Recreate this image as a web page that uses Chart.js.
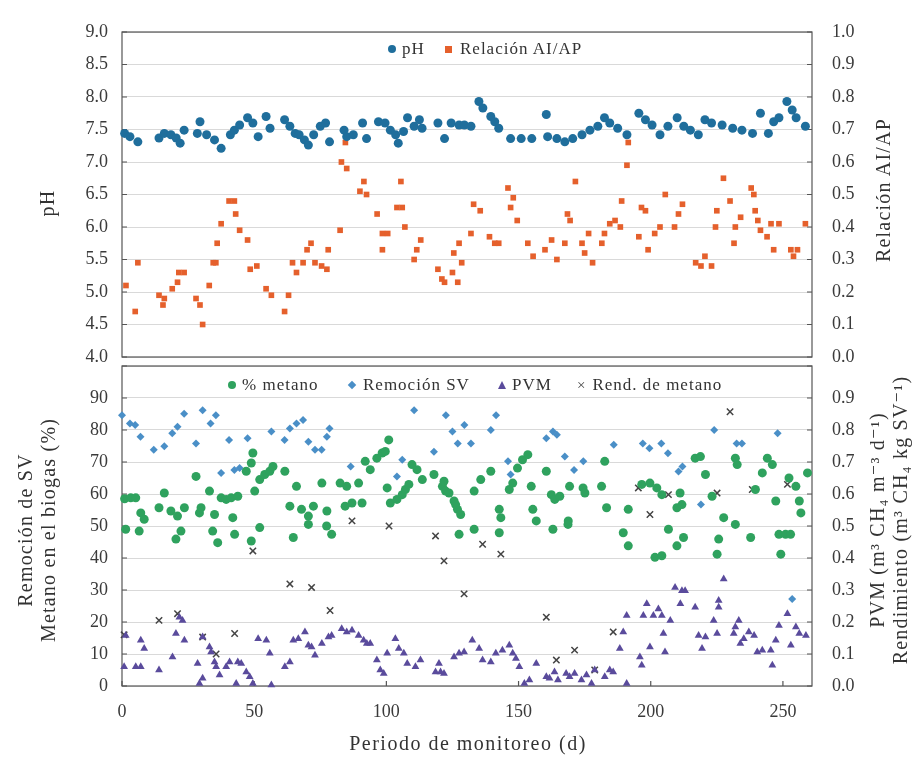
<!DOCTYPE html>
<html>
<head>
<meta charset="utf-8">
<script src="https://cdn.jsdelivr.net/npm/chart.js@4.4.0/dist/chart.umd.min.js"></script>
<style>
body { margin: 0; background: #fff; }
#wrap { position: relative; width: 919px; height: 760px; font-family: 'Liberation Serif', 'DejaVu Serif', serif; color: #333; }
canvas { position: absolute; left: 0; }
.lbl { position: absolute; white-space: nowrap; font-size: 20px; letter-spacing: 1.2px; text-align: center; line-height: 23px; transform: translate(-50%, -50%) rotate(-90deg); }
.xt { position: absolute; white-space: nowrap; font-size: 20px; letter-spacing: 1.5px; transform: translate(-50%, -50%); }
.it { position: absolute; white-space: nowrap; font-size: 17px; letter-spacing: 1px; transform: translateY(-50%); display: flex; align-items: center; }
.mk { display: inline-block; margin-right: 6px; }
</style>
</head>
<body>
<div id="wrap">
  <canvas id="top" width="919" height="365" style="top:0"></canvas>
  <canvas id="bottom" width="919" height="400" style="top:360px"></canvas>

  <span class="it" style="left:388px; top:49px;"><span class="mk" style="width:8px;height:8px;border-radius:50%;background:#1f6e9c"></span>pH</span>
  <span class="it" style="left:445px; top:49px;"><span class="mk" style="width:7px;height:7px;background:#e5602c;margin-right:8px"></span>Relación AI/AP</span>

  <span class="it" style="left:228px; top:385px;"><span class="mk" style="width:8px;height:8px;border-radius:50%;background:#2fa25e"></span>% metano</span>
  <span class="it" style="left:349px; top:385px;"><span class="mk" style="width:6px;height:6px;background:#4a8fc7;transform:rotate(45deg);margin-right:8px"></span>Remoción SV</span>
  <span class="it" style="left:498px; top:385px;"><span class="mk" style="width:0;height:0;border-left:4px solid transparent;border-right:4px solid transparent;border-bottom:8px solid #5a4b9c"></span>PVM</span>
  <span class="it" style="left:577px; top:385px;"><span class="mk" style="font-size:15px;color:#444;line-height:10px">×</span>Rend. de metano</span>

  <div class="lbl" style="left:47px; top:203px;">pH</div>
  <div class="lbl" style="left:883px; top:190px;">Relación AI/AP</div>
  <div class="lbl" style="left:37px; top:530px;">Remoción de SV<br>Metano en el biogas (%)</div>
  <div class="lbl" style="left:889px; top:520px;">PVM (m³ CH₄ m⁻³ d⁻¹)<br>Rendimiento (m³ CH₄ kg SV⁻¹)</div>
  <div class="xt" style="left:468px; top:743px;">Periodo de monitoreo (d)</div>
</div>

<script>
// [día, valor]
const phData = [[1,7.44],[3,7.39],[6,7.31],[14,7.37],[16,7.44],[18.5,7.42],[20.5,7.37],[22,7.29],[23.5,7.49],[28.5,7.44],
  [29.5,7.62],[32,7.42],[35,7.34],[37.5,7.21],[41,7.42],[42.5,7.49],[44.5,7.57],[47.5,7.68],[49.5,7.60],[51.5,7.39],
  [54.5,7.70],[56,7.52],[61.5,7.65],[63.5,7.55],[65.5,7.44],[67,7.42],[69,7.34],[70.5,7.26],[72.5,7.42],[75,7.55],
  [77,7.60],[78.5,7.31],[84,7.49],[85,7.39],[87.5,7.42],[91,7.60],[92.5,7.36],[97,7.62],[99.5,7.60],[101.5,7.49],
  [103.5,7.42],[104.5,7.29],[106.5,7.47],[108,7.68],[110.5,7.55],[112.5,7.65],[113.5,7.52],[119.5,7.60],[122,7.36],[124.5,7.60],
  [127.5,7.57],[129.5,7.57],[132,7.55],[135,7.93],[136.5,7.83],[139.5,7.70],[141,7.62],[142.5,7.52],[147,7.36],[151,7.36],
  [155,7.36],[160.5,7.73],[161,7.39],[164.5,7.36],[167.5,7.31],[170.5,7.36],[174,7.42],[177,7.49],[180,7.55],[182.5,7.68],
  [184.5,7.60],[187.5,7.52],[191,7.42],[195.5,7.75],[198,7.65],[200.5,7.57],[203.5,7.42],[206.5,7.55],[210,7.68],[212.5,7.55],
  [215,7.49],[218,7.42],[220.5,7.65],[223,7.60],[227,7.57],[231,7.52],[234.5,7.49],[238.5,7.44],[241.5,7.75],[244.5,7.44],
  [246.5,7.62],[248.5,7.68],[251.5,7.93],[253.5,7.80],[255,7.68],[258.5,7.55]];

const aiapData = [[1.5,0.22],[5,0.14],[6,0.29],[14,0.19],[15.5,0.16],[16,0.18],[19,0.21],[21,0.23],[21.5,0.26],[23.5,0.26],
  [28,0.18],[29.5,0.16],[30.5,0.10],[33,0.22],[34.5,0.29],[35.5,0.29],[36,0.35],[37.5,0.41],[40.5,0.48],[42.5,0.48],
  [43,0.44],[44.5,0.39],[47.5,0.36],[48.5,0.27],[51,0.28],[54.5,0.21],[56.5,0.19],[61.5,0.14],[63,0.19],[64.5,0.29],
  [66,0.26],[68.5,0.29],[70,0.33],[71.5,0.35],[73,0.29],[75.5,0.28],[77.5,0.27],[78,0.33],[82.5,0.39],[83,0.60],
  [84.5,0.66],[85,0.58],[90,0.51],[91.5,0.54],[92.5,0.50],[96.5,0.44],[98.5,0.38],[100.5,0.38],[98.5,0.33],[104,0.46],
  [105.5,0.54],[106,0.46],[107,0.40],[110.5,0.30],[111.5,0.33],[113,0.36],[119.5,0.27],[121,0.24],[122,0.23],[125,0.26],
  [125.5,0.32],[127.5,0.35],[127,0.23],[128.5,0.29],[132,0.38],[133,0.47],[135.5,0.45],[139,0.37],[141,0.35],[142.5,0.35],
  [146,0.52],[148,0.49],[147,0.46],[149.5,0.42],[153.5,0.35],[155.5,0.31],[160,0.33],[162.5,0.36],[164.5,0.30],[167.5,0.35],
  [168.5,0.44],[169.5,0.42],[171.5,0.54],[174,0.35],[175,0.32],[176.5,0.38],[178,0.29],[181.5,0.35],[182.5,0.38],[184.5,0.41],
  [186.5,0.42],[188.5,0.40],[189,0.48],[191,0.59],[191.5,0.66],[195.5,0.37],[196.5,0.46],[198,0.45],[199,0.33],[201.5,0.38],
  [203.5,0.40],[205.5,0.50],[209,0.40],[210.5,0.44],[212,0.47],[217,0.29],[219,0.28],[220.5,0.31],[223,0.28],[224.5,0.40],
  [225,0.45],[227.5,0.55],[230,0.48],[231.5,0.35],[232,0.40],[234,0.43],[238,0.52],[239,0.50],[239.5,0.45],[240.5,0.42],
  [241.5,0.39],[244,0.37],[245.5,0.41],[248.5,0.41],[246.5,0.33],[253,0.33],[254,0.31],[255.5,0.33],[258.5,0.41]];

const metanoData = [[1,58.5],[3.3,58.8],[5.2,58.8],[7.1,54.1],[8.4,52.1],[14,55.7],[16,60.3],[18.5,54.7],[21,53.1],[23.6,55.7],
  [28,65.5],[29.3,54.1],[29.9,55.7],[33.1,60.9],[35,53.6],[37.5,58.8],[39.4,58.3],[41.9,52.6],[41.3,58.8],[43.8,59.3],
  [47,67.1],[48.9,69.7],[49.5,72.8],[50.2,60.9],[52.1,64.5],[54,66.1],[55.9,67.1],[57.1,68.6],[61.6,67.1],[63.5,56.2],
  [66,62.4],[67.9,55.2],[70.5,53.1],[72.4,56.2],[75.6,63.4],[77.5,54.7],[82.5,63.4],[85,62.4],[84.4,56.2],[87,57.2],
  [89.5,63.4],[90.8,57.2],[92,70.2],[93.9,67.6],[96.4,71.2],[98.4,72.8],[99.6,73.3],[100.9,76.9],[100.3,61.9],[101.5,57.2],
  [104,58.3],[106,59.8],[107.2,61.4],[108.5,63],[109.7,69.2],[111.6,67.6],[113.6,64.5],[118,66.1],[121.2,62.4],[122.4,60.9],
  [125.6,57.8],[126.9,55.2],[121.8,64],[123.7,60.3],[126.2,56.7],[128.1,53.6],[133.2,60.9],[135.7,64.5],[139.5,67.1],[142.7,55.2],
  [143.3,52.6],[146.5,61.4],[147.8,63.4],[149.6,68.1],[151.5,70.7],[153.5,72.3],[154.8,62.4],[155.4,55.2],[156.7,51.6],[160.5,67.1],
  [162.4,59.8],[163.7,58.3],[165.6,59.3],[168.8,51.6],[169.3,62.4],[174.4,61.9],[175.1,60.3],[181.4,62.4],[182.6,70.2],[183.3,55.7],
  [191.5,55.2],[196.6,63],[199.7,63.4],[202.3,61.9],[204.2,59.8],[209.9,55.7],[211.1,60.3],[211.8,56.7],[216.8,71.2],[218.8,71.7],
  [220.7,66.1],[223.2,59.3],[227.6,52.6],[232,71.2],[232.7,69.2],[239.6,61.4],[242.2,66.6],[244.1,71.2],[246,69.2],[247.3,57.8],
  [252.3,65],[254.9,62.4],[256.2,57.8],[256.8,54.1],[259.3,66.6],
  [1.4,49],[6.5,48.4],[20.4,45.9],[22.3,48.4],[34.3,48.4],[36.2,44.8],[42.6,47.4],[48.9,45.3],[52.1,49.5],[64.8,46.4],
  [70.5,50.5],[77.4,50],[79.3,47.4],[127.5,47.4],[133.2,49],[142.7,47.9],[163,49],[168.7,50.5],[189.6,47.9],[191.5,43.8],
  [201.6,40.2],[204.2,40.7],[206.7,49],[209.9,43.8],[212.4,46.4],[225.7,45.9],[225.1,41.2],[232,50.5],[237.8,46.4],[248.5,47.4],
  [251,47.4],[252.9,47.4],[249.2,41.2]];

const remocionData = [[0,84.6],[3,82],[5,81.6],[7,77.9],[12,73.8],[16,74.9],[19,79],[21,81],[23.5,85.1],[28,75.8],
  [30.5,86.2],[33.5,82],[35.5,84.6],[37.5,66.6],[40.5,76.9],[42.5,67.5],[44.5,68.1],[47.5,77.4],[56.5,79.5],[61.5,76.9],
  [63.5,80.5],[66,82],[68.5,83.1],[70.5,76.3],[73,73.8],[75.5,73.8],[77.5,77.9],[78.5,80.5],[86.5,68.6],[104,65.5],
  [106,70.7],[110.5,86.2],[118,73.2],[122.5,84.6],[125,79.5],[127,75.8],[129.5,81.6],[132,75.8],[139.5,80],[141.5,84.6],
  [146,70.2],[147,66.1],[160.5,77.4],[163,79.5],[164.5,78.5],[167.5,71.7],[171,67.5],[174.5,70.2],[186,75.4],[197,75.8],
  [199.5,74.3],[204,75.8],[206.5,72.7],[210.5,67],[212,68.6],[219,56.7],[224,80],[232.5,75.8],[234.5,75.8],[248,79],
  [253.5,27.2]];

const pvmData = [[0.8,0.060],[1.4,0.158],[5.2,0.060],[7.1,0.060],[7.1,0.143],[8.4,0.117],[14,0.050],[19.1,0.091],[20.4,0.164],[21.7,0.215],
  [22.9,0.205],[23.6,0.143],[28.6,0.070],[29.3,0.008],[30.5,0.024],[30.5,0.153],[33.1,0.122],[33.7,0.106],[35,0.075],[35.6,0.060],
  [36.9,0.034],[39.4,0.060],[40.7,0.075],[43.2,0.008],[43.8,0.075],[45.1,0.070],[47,0.044],[48.3,0.029],[49.5,0.008],[51.5,0.148],
  [54.6,0.143],[55.9,0.102],[56.5,0.003],[61.6,0.060],[63.5,0.075],[64.8,0.143],[66.7,0.148],[69.2,0.169],[70.5,0.127],[71.7,0.122],
  [73,0.096],[75.6,0.133],[78.1,0.153],[79.3,0.158],[83.1,0.179],[85,0.169],[87,0.174],[89.5,0.158],[91.4,0.143],[92.6,0.133],
  [93.9,0.133],[96.4,0.081],[97.7,0.050],[99,0.039],[100.3,0.102],[103.4,0.148],[104.7,0.117],[106.6,0.102],[107.9,0.070],[111,0.060],
  [112.9,0.081],[118.6,0.044],[119.9,0.070],[120.5,0.044],[121.8,0.039],[125.6,0.091],[127.5,0.102],[129.4,0.106],[132.5,0.143],[135.1,0.117],
  [136.4,0.081],[139.5,0.075],[141.4,0.102],[143.9,0.112],[146.5,0.127],[147.8,0.102],[149,0.086],[150.3,0.060],[152.2,0.008],[154.1,0.019],
  [156.7,0.070],[160.5,0.029],[161.7,0.024],[163.6,0.044],[164.9,0.019],[168,0.039],[169.3,0.029],[171.2,0.039],[173.8,0.019],[175.7,0.034],
  [177.6,0.008],[178.8,0.050],[182.6,0.029],[184.5,0.050],[185.8,0.044],[188.3,0.117],[189.6,0.169],[190.9,0.008],[190.9,0.220],[195.9,0.091],
  [196.6,0.065],[197.2,0.220],[198.5,0.257],[199.7,0.122],[201,0.220],[202.9,0.241],[204.2,0.220],[204.8,0.164],[205.4,0.106],[207.4,0.205],
  [209.2,0.308],[211.2,0.257],[211.8,0.298],[213,0.298],[216.8,0.246],[218.1,0.158],[219.4,0.117],[220.7,0.153],[223.8,0.205],[225.1,0.164],
  [225.7,0.267],[225.7,0.246],[227.6,0.334],[231.4,0.164],[232,0.184],[233.3,0.205],[233.9,0.133],[235.2,0.148],[237.1,0.169],[239.1,0.158],
  [240.3,0.106],[242.2,0.112],[245.4,0.112],[246,0.065],[247.3,0.143],[248.5,0.189],[251.7,0.226],[253,0.127],[254.9,0.184],[256.2,0.164],
  [258.7,0.158]];

const rendData = [[0.8,0.16],[14,0.205],[21,0.226],[30.5,0.153],[35.6,0.10],[42.6,0.164],[49.5,0.422],[63.5,0.319],[71.7,0.308],[78.7,0.236],
  [87,0.516],[101,0.50],[118.6,0.469],[121.8,0.391],[129.4,0.288],[136.4,0.443],[143.3,0.412],[160.5,0.215],[164.3,0.081],[171.2,0.112],
  [178.8,0.05],[185.8,0.169],[195.3,0.619],[199.7,0.536],[206.7,0.598],[225.1,0.603],[230,0.857],[238.4,0.614],[251.7,0.63]];

const xTicks = [0, 50, 100, 150, 200, 250];
const xMax = 261;

const tickFont = { family: "'Liberation Serif', serif", size: 18 };
const tickColor = '#3a3a3a';
const gridColor = '#d9d9d9';

const toPts = arr => arr.map(p => ({ x: p[0], y: p[1] }));

// marco del gráfico + marcas interiores de los ejes
const boxPlugin = {
  id: 'box',
  beforeDatasetsDraw(chart) {
    const { ctx, chartArea: a, scales } = chart;
    ctx.save();
    ctx.strokeStyle = '#555';
    ctx.lineWidth = 1.2;
    ctx.strokeRect(a.left, a.top, a.right - a.left, a.bottom - a.top);
    ctx.beginPath();
    Object.values(scales).forEach(s => {
      if (s.axis === 'y') {
        s.ticks.forEach(t => {
          const y = s.getPixelForValue(t.value);
          if (s.position === 'left') { ctx.moveTo(a.left, y); ctx.lineTo(a.left + 5, y); }
          else { ctx.moveTo(a.right, y); ctx.lineTo(a.right - 5, y); }
        });
      } else if (s.options.display) {
        s.ticks.forEach(t => {
          const x = s.getPixelForValue(t.value);
          ctx.moveTo(x, a.bottom); ctx.lineTo(x, a.bottom - 5);
        });
      }
    });
    ctx.stroke();
    ctx.restore();
  }
};

function yAxis(pos, min, max, step, width, pad, fmt, grid) {
  return {
    position: pos, min: min, max: max,
    ticks: { stepSize: step, padding: pad, font: tickFont, color: tickColor, callback: fmt },
    grid: { display: grid, color: gridColor, drawTicks: false },
    border: { display: false },
    // ancho fijo y sin relleno vertical, para que las áreas de trazado coincidan
    afterFit: s => { s.width = width; s.paddingTop = 0; s.paddingBottom = 0; }
  };
}

new Chart(document.getElementById('top'), {
  type: 'scatter',
  data: {
    datasets: [
      { label: 'pH', data: toPts(phData), yAxisID: 'yPh', pointStyle: 'circle', pointRadius: 4.5,
        backgroundColor: '#1f6e9c', borderColor: '#1f6e9c', borderWidth: 0, clip: false },
      { label: 'Relación AI/AP', data: toPts(aiapData), yAxisID: 'yAi', pointStyle: 'rect', pointRadius: 4,
        backgroundColor: '#e5602c', borderColor: '#e5602c', borderWidth: 0, clip: false }
    ]
  },
  options: {
    responsive: false,
    animation: false,
    layout: { padding: { top: 32, bottom: 8, left: 0, right: 0 } },
    plugins: { legend: { display: false }, tooltip: { enabled: false } },
    scales: {
      x: { type: 'linear', min: 0, max: xMax, display: false },
      yPh: yAxis('left', 4, 9, 0.5, 122, 14, v => v.toFixed(1), true),
      yAi: yAxis('right', 0, 1, 0.1, 107, 20, v => v.toFixed(1), false)
    }
  },
  plugins: [boxPlugin]
});

new Chart(document.getElementById('bottom'), {
  type: 'scatter',
  data: {
    datasets: [
      { label: '% metano', data: toPts(metanoData), yAxisID: 'yPct', pointStyle: 'circle', pointRadius: 4.5,
        backgroundColor: '#2fa25e', borderColor: '#2fa25e', borderWidth: 0, clip: false },
      { label: 'Remoción SV', data: toPts(remocionData), yAxisID: 'yPct', pointStyle: 'rectRot', pointRadius: 4,
        backgroundColor: '#4a8fc7', borderColor: '#4a8fc7', borderWidth: 0, clip: false },
      { label: 'PVM', data: toPts(pvmData), yAxisID: 'yPvm', pointStyle: 'triangle', pointRadius: 4.5,
        backgroundColor: '#5a4b9c', borderColor: '#5a4b9c', borderWidth: 0, clip: false },
      { label: 'Rend. de metano', data: toPts(rendData), yAxisID: 'yPvm', pointStyle: 'crossRot', pointRadius: 4.5,
        backgroundColor: '#444', borderColor: '#444', borderWidth: 1.5, clip: false }
    ]
  },
  options: {
    responsive: false,
    animation: false,
    layout: { padding: { top: 5, bottom: 0, left: 0, right: 0 } },
    plugins: { legend: { display: false }, tooltip: { enabled: false } },
    scales: {
      x: {
        type: 'linear', min: 0, max: xMax,
        afterBuildTicks: s => { s.ticks = xTicks.map(v => ({ value: v })); },
        ticks: { padding: 15, font: tickFont, color: tickColor, maxRotation: 0 },
        grid: { display: false, drawTicks: false },
        border: { display: false },
        afterFit: s => { s.height = 74; }
      },
      yPct: yAxis('left', 0, 100, 10, 122, 14, v => (v >= 100 ? '' : v), true),
      yPvm: yAxis('right', 0, 1, 0.1, 107, 20, v => (v > 0.95 ? '' : v.toFixed(1)), false)
    }
  },
  plugins: [boxPlugin]
});
</script>
</body>
</html>
